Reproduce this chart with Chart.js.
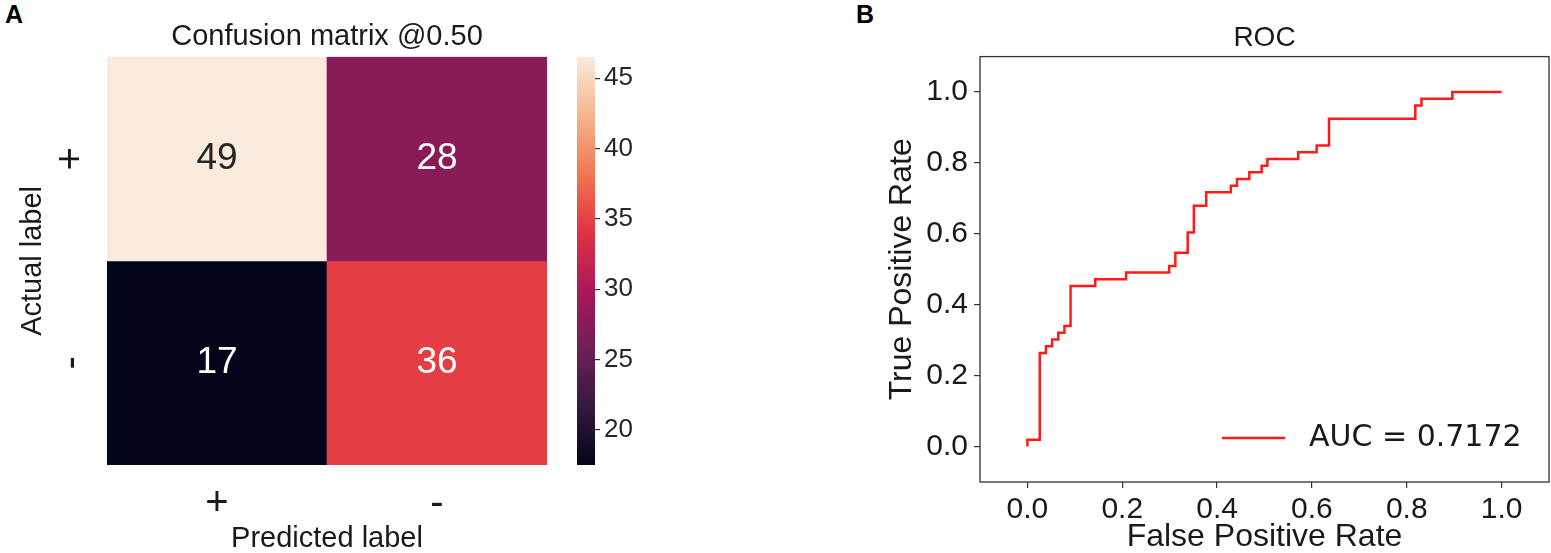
<!DOCTYPE html>
<html><head><meta charset="utf-8">
<script src="https://cdn.jsdelivr.net/npm/chart.js@4.4.1/dist/chart.umd.min.js"></script>
<style>
html,body{margin:0;padding:0;background:#fff;}
body{width:1551px;height:553px;position:relative;overflow:hidden;font-family:'Liberation Sans',Arial,sans-serif;}
canvas{position:absolute;top:0;}
.panel{position:absolute;font-weight:bold;font-size:25px;line-height:1;color:#000;}
</style></head><body>
<div class="panel" style="left:5px;top:2px">A</div>
<div class="panel" style="left:856px;top:2px">B</div>
<canvas id="cm" width="560" height="553" style="left:0"></canvas>
<canvas id="cb" width="85" height="553" style="left:565px"></canvas>
<canvas id="roc" width="701" height="553" style="left:850px"></canvas>
<script>
// ---- data ----
const actualLabels = ['+', '-'];
const predictedLabels = ['+', '-'];
const cmRowPlus = [49, 28];
const cmRowMinus = [17, 36];
const cmTitle = 'Confusion matrix @0.50';
const colorbarTicks = [20, 25, 30, 35, 40, 45];
const colorbarRange = [17.5, 46.5];

const fpr = [0, 0, 0.026, 0.026, 0.039, 0.039, 0.052, 0.052, 0.065, 0.065, 0.078, 0.078, 0.091, 0.091,
  0.143, 0.143, 0.208, 0.208, 0.299, 0.299, 0.312, 0.312, 0.338, 0.338, 0.351, 0.351, 0.377, 0.377,
  0.429, 0.429, 0.442, 0.442, 0.468, 0.468, 0.494, 0.494, 0.506, 0.506, 0.571, 0.571, 0.610, 0.610,
  0.636, 0.636, 0.818, 0.818, 0.831, 0.831, 0.896, 0.896, 1.0];
const tpr = [0, 0.019, 0.019, 0.264, 0.264, 0.283, 0.283, 0.302, 0.302, 0.321, 0.321, 0.340, 0.340,
  0.453, 0.453, 0.472, 0.472, 0.491, 0.491, 0.509, 0.509, 0.547, 0.547, 0.604, 0.604, 0.679, 0.679,
  0.717, 0.717, 0.736, 0.736, 0.755, 0.755, 0.774, 0.774, 0.792, 0.792, 0.811, 0.811, 0.830, 0.830,
  0.849, 0.849, 0.925, 0.925, 0.962, 0.962, 0.981, 0.981, 1.0, 1.0];
const rocTicks = [0, 0.2, 0.4, 0.6, 0.8, 1.0];
const aucLabel = 'AUC = 0.7172';

// ---- styling ----
const FONT = "'Liberation Sans', Arial, sans-serif";
Chart.defaults.font.family = FONT;
Chart.defaults.color = '#1a1a1a';
const rocket = [[0, [3, 5, 26]], [0.143, [53, 25, 62]], [0.286, [112, 31, 87]], [0.429, [173, 23, 89]],
  [0.571, [225, 51, 66]], [0.714, [243, 118, 81]], [0.857, [246, 180, 143]], [1, [250, 235, 221]]];
const vmin = Math.min(...cmRowPlus, ...cmRowMinus);
const vmax = Math.max(...cmRowPlus, ...cmRowMinus);
function rocketRGB(v) {
  const t = Math.max(0, Math.min(1, (v - vmin) / (vmax - vmin)));
  for (let i = 1; i < rocket.length; i++) {
    if (t <= rocket[i][0]) {
      const [t0, c0] = rocket[i - 1], [t1, c1] = rocket[i];
      const f = (t - t0) / (t1 - t0);
      return c0.map((c, k) => Math.round(c + (c1[k] - c) * f));
    }
  }
  return rocket[rocket.length - 1][1];
}
const rgbStr = c => `rgb(${c[0]},${c[1]},${c[2]})`;
const lum = c => { const l = c.map(x => { x /= 255; return x <= 0.03928 ? x / 12.92 : Math.pow((x + 0.055) / 1.055, 2.4); }); return 0.2126 * l[0] + 0.7152 * l[1] + 0.0722 * l[2]; };

const cellText = {
  id: 'cellText',
  afterDatasetsDraw(chart) {
    const ctx = chart.ctx;
    chart.data.datasets.forEach((ds, di) => {
      chart.getDatasetMeta(di).data.forEach((el, i) => {
        const v = ds.values[i];
        const c = rocketRGB(v);
        ctx.save();
        ctx.font = `37px ${FONT}`;
        ctx.fillStyle = lum(c) > 0.408 ? '#262626' : '#ffffff';
        ctx.textAlign = 'center';
        ctx.textBaseline = 'middle';
        ctx.fillText(String(v), el.x, (el.y + el.base) / 2);
        ctx.restore();
      });
    });
  }
};

const rows = [cmRowPlus, cmRowMinus];
new Chart(document.getElementById('cm'), {
  type: 'bar',
  data: {
    labels: predictedLabels,
    datasets: rows.map((row, r) => ({
      label: actualLabels[r],
      data: row.map(() => [rows.length - r - 1, rows.length - r]),
      values: row,
      backgroundColor: row.map(v => rgbStr(rocketRGB(v))),
      grouped: false, barPercentage: 1, categoryPercentage: 1, borderWidth: 0
    }))
  },
  options: {
    responsive: false, animation: false, devicePixelRatio: 1,
    layout: { padding: { right: 13 } },
    plugins: {
      legend: { display: false }, tooltip: { enabled: false },
      title: { display: true, text: cmTitle, fullSize: false, font: { size: 29, weight: 'normal' }, padding: { top: 20, bottom: 2 } }
    },
    scales: {
      x: {
        grid: { display: false }, border: { display: false },
        ticks: { font: { size: 40 }, padding: 7 },
        title: { display: true, text: 'Predicted label', font: { size: 29, lineHeight: 1 }, padding: { top: 0, bottom: 0 } },
        afterFit: s => { s.height = 88; }
      },
      y: {
        type: 'linear', min: 0, max: rows.length,
        grid: { display: false }, border: { display: false },
        afterBuildTicks: s => { s.ticks = actualLabels.map((l, i) => ({ value: i + 0.5 })); },
        ticks: {
          callback: (v) => actualLabels[rows.length - 1 - Math.floor(v)],
          font: { size: 40 }, minRotation: 90, maxRotation: 90, crossAlign: 'center', padding: 15
        },
        title: { display: true, text: 'Actual label', font: { size: 29, lineHeight: 1 }, padding: { top: 18, bottom: 0 } },
        afterFit: s => { s.width = 107; }
      }
    }
  },
  plugins: [cellText]
});

new Chart(document.getElementById('cb'), {
  type: 'bar',
  data: {
    labels: [''],
    datasets: [{
      data: [colorbarRange],
      backgroundColor: (c) => {
        const a = c.chart.chartArea;
        if (!a) return 'rgba(0,0,0,0)';
        const g = c.chart.ctx.createLinearGradient(0, a.bottom, 0, a.top);
        rocket.forEach(([t, rgb]) => g.addColorStop(t, rgbStr(rgb)));
        return g;
      },
      barPercentage: 1, categoryPercentage: 1, borderWidth: 0
    }]
  },
  options: {
    responsive: false, animation: false, devicePixelRatio: 1,
    layout: { padding: { left: 12, top: 57, bottom: 88, right: 0 } },
    plugins: { legend: { display: false }, tooltip: { enabled: false } },
    scales: {
      x: { display: false },
      y: {
        position: 'right', min: colorbarRange[0], max: colorbarRange[1],
        afterBuildTicks: s => { s.ticks = colorbarTicks.map(v => ({ value: v })); },
        grid: { drawOnChartArea: false, tickLength: 5, color: '#333', lineWidth: 1.2 },
        border: { display: false },
        ticks: { font: { size: 26 }, color: '#262626', padding: 4 },
        afterFit: s => { s.width = 55; }
      }
    }
  }
});

const frame = {
  id: 'frame',
  afterDraw(chart) {
    const a = chart.chartArea, ctx = chart.ctx;
    ctx.save(); ctx.strokeStyle = '#333'; ctx.lineWidth = 1.3;
    ctx.strokeRect(a.left, a.top, a.right - a.left, a.bottom - a.top);
    ctx.restore();
  }
};
const rocLegend = {
  id: 'rocLegend',
  afterDraw(chart) {
    const a = chart.chartArea, ctx = chart.ctx, ds = chart.data.datasets[0];
    const y = a.bottom - 44;
    ctx.save();
    ctx.strokeStyle = ds.borderColor; ctx.lineWidth = ds.borderWidth;
    ctx.beginPath(); ctx.moveTo(a.right - 327, y); ctx.lineTo(a.right - 264, y); ctx.stroke();
    ctx.font = "30px 'DejaVu Sans'"; ctx.fillStyle = '#1a1a1a';
    ctx.textAlign = 'left'; ctx.textBaseline = 'middle';
    ctx.fillText(ds.label, a.right - 240, y);
    ctx.restore();
  }
};
const tickGrid = { drawOnChartArea: false, tickLength: 6, color: '#333', lineWidth: 1.2 };
new Chart(document.getElementById('roc'), {
  type: 'scatter',
  data: {
    datasets: [{
      label: aucLabel,
      data: fpr.map((x, i) => ({ x, y: tpr[i] })),
      showLine: true, borderColor: '#ff1a1a', borderWidth: 2.5, pointRadius: 0, fill: false, tension: 0
    }]
  },
  options: {
    responsive: false, animation: false, devicePixelRatio: 1,
    layout: { padding: { right: 2 } },
    plugins: {
      legend: { display: false }, tooltip: { enabled: false },
      title: { display: true, text: 'ROC', fullSize: false, font: { size: 28, weight: 'normal' }, padding: { top: 21, bottom: 2 } }
    },
    scales: {
      x: {
        type: 'linear', min: -0.1, max: 1.1,
        afterBuildTicks: s => { s.ticks = rocTicks.map(v => ({ value: v })); },
        ticks: { callback: v => v.toFixed(1), font: { size: 30 }, padding: 4 },
        grid: tickGrid, border: { display: false },
        title: { display: true, text: 'False Positive Rate', font: { size: 32, lineHeight: 1 }, padding: { top: 0, bottom: 0 } },
        afterFit: s => { s.height = 71; }
      },
      y: {
        type: 'linear', min: -0.1, max: 1.1,
        afterBuildTicks: s => { s.ticks = rocTicks.map(v => ({ value: v })); },
        ticks: { callback: v => v.toFixed(1), font: { size: 30 }, padding: 6 },
        grid: tickGrid, border: { display: false },
        title: { display: true, text: 'True Positive Rate', font: { size: 32, lineHeight: 1 }, padding: { top: 36, bottom: 0 } },
        afterFit: s => { s.width = 130; }
      }
    }
  },
  plugins: [frame, rocLegend]
});
</script>
</body></html>
